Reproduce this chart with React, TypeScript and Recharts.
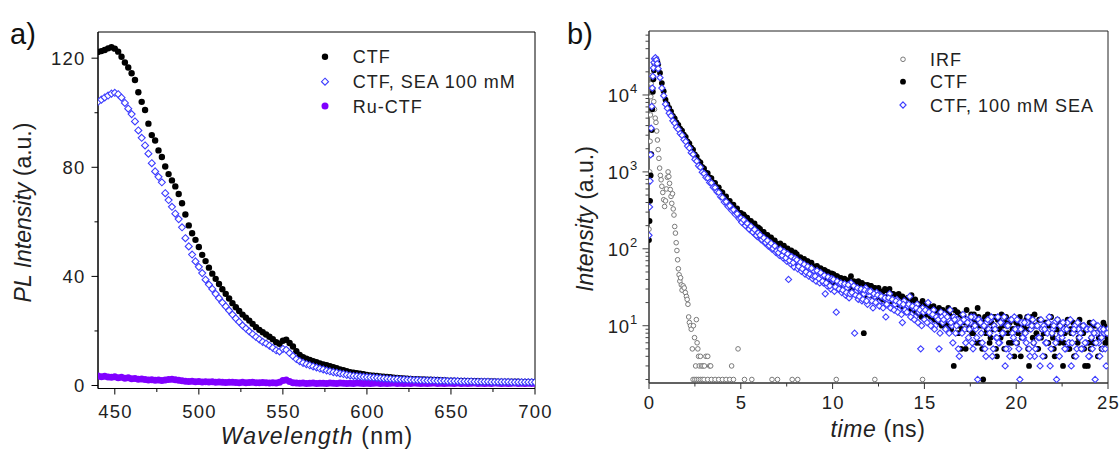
import React from 'react';
import { ScatterChart, Scatter, XAxis, YAxis, ReferenceArea } from 'recharts';

// ---------- panel a) steady-state PL ----------
const wlStart = 440;
const wlStep = 2;

// CTF, one value every 2 nm from 440 to 700 nm
const ctfPL = [
  122.3, 122.6, 123.0, 123.6, 124.0, 123.5, 122.4, 120.5, 118.4, 116.6, // 440
  114.5, 112.0, 107.5, 104.0, 101.0, 96.0, 91.8, 89.8, 86.2, 83.8, // 460
  80.3, 77.5, 75.2, 73.0, 70.2, 66.8, 62.7, 58.7, 55.8, 53.4, // 480
  50.8, 47.9, 45.6, 43.2, 41.0, 39.1, 37.2, 35.3, 33.6, 31.9, // 500
  30.2, 28.7, 27.3, 26.0, 24.9, 23.8, 22.6, 21.4, 20.4, 19.5, // 520
  18.7, 17.9, 17.0, 15.9, 15.3, 16.4, 16.8, 15.6, 14.3, 12.6, // 540
  11.2, 10.4, 9.8, 9.4, 8.9, 8.5, 8.1, 7.7, 7.4, 7.1, // 560
  6.7, 6.3, 5.9, 5.6, 5.2, 4.9, 4.7, 4.5, 4.3, 4.1, // 580
  3.9, 3.7, 3.6, 3.5, 3.3, 3.2, 3.1, 3.0, 2.9, 2.8, // 600
  2.7, 2.6, 2.5, 2.4, 2.3, 2.3, 2.2, 2.2, 2.1, 2.1, // 620
  2.0, 2.0, 1.9, 1.9, 1.8, 1.8, 1.8, 1.7, 1.7, 1.7, // 640
  1.6, 1.6, 1.6, 1.6, 1.5, 1.5, 1.5, 1.5, 1.5, 1.4, // 660
  1.4, 1.4, 1.4, 1.4, 1.4, 1.4, 1.3, 1.3, 1.3, 1.3, // 680
  1.3, // 700
];

// CTF, SEA 100 mM
const seaPL = [
  104.0, 104.8, 105.6, 106.3, 107.0, 107.3, 106.8, 105.5, 103.6, 101.5, // 440
  99.5, 96.8, 93.5, 90.8, 88.0, 85.0, 81.5, 78.5, 76.5, 74.5, // 460
  70.5, 68.0, 65.5, 63.0, 61.0, 58.0, 54.0, 51.0, 48.0, 45.5, // 480
  43.5, 41.2, 38.8, 37.0, 35.4, 33.6, 32.0, 30.4, 29.0, 27.5, // 500
  26.0, 24.6, 23.3, 22.0, 20.9, 19.8, 18.8, 17.8, 16.9, 16.0, // 520
  15.4, 14.6, 13.8, 12.9, 12.5, 13.4, 13.1, 11.9, 10.8, 9.7, // 540
  8.9, 8.3, 7.8, 7.4, 7.0, 6.6, 6.2, 5.9, 5.5, 5.2, // 560
  4.9, 4.7, 4.4, 4.2, 3.9, 3.7, 3.5, 3.4, 3.3, 3.2, // 580
  3.1, 3.0, 2.9, 2.8, 2.7, 2.6, 2.5, 2.4, 2.3, 2.3, // 600
  2.2, 2.2, 2.1, 2.1, 2.0, 2.0, 1.9, 1.9, 1.8, 1.8, // 620
  1.8, 1.7, 1.7, 1.7, 1.6, 1.6, 1.6, 1.6, 1.5, 1.5, // 640
  1.5, 1.5, 1.4, 1.4, 1.4, 1.4, 1.4, 1.3, 1.3, 1.3, // 660
  1.3, 1.3, 1.3, 1.2, 1.2, 1.2, 1.2, 1.2, 1.2, 1.2, // 680
  1.2, // 700
];

// Ru-CTF
const ruPL = [
  3.5, 3.2, 3.4, 3.1, 3.0, 3.2, 2.8, 3.0, 2.7, 2.8, // 440
  2.5, 2.6, 2.3, 2.4, 2.2, 2.0, 2.1, 1.9, 2.0, 1.8, // 460
  2.0, 2.2, 2.3, 2.1, 1.9, 1.7, 1.6, 1.5, 1.6, 1.4, // 480
  1.5, 1.3, 1.4, 1.3, 1.4, 1.2, 1.3, 1.2, 1.1, 1.2, // 500
  1.2, 1.1, 1.0, 1.2, 1.0, 1.1, 1.2, 1.0, 1.0, 1.1, // 520
  1.0, 0.9, 1.0, 0.9, 1.2, 1.8, 2.0, 1.5, 1.0, 0.9, // 540
  0.8, 0.9, 0.7, 0.8, 0.9, 0.7, 0.8, 0.8, 0.7, 0.9, // 560
  0.8, 0.7, 0.9, 0.8, 0.7, 0.8, 0.7, 0.9, 0.8, 0.7, // 580
  0.8, 0.7, 0.8, 0.9, 0.7, 0.8, 0.7, 0.8, 0.9, 0.7, // 600
  0.8, 0.7, 0.8, 0.7, 0.9, 0.8, 0.7, 0.8, 0.7, 0.8, // 620
  0.9, 0.7, 0.8, 0.7, 0.8, 0.8, 0.7, 0.9, 0.7, 0.8, // 640
  0.7, 0.8, 0.9, 0.7, 0.8, 0.7, 0.8, 0.7, 0.9, 0.8, // 660
  0.7, 0.8, 0.7, 0.8, 0.9, 0.7, 0.8, 0.7, 0.8, 0.7, // 680
  0.8, // 700
];

const wlTicks = [450, 475, 500, 525, 550, 575, 600, 625, 650, 675, 700];
const wlMajor = [450, 500, 550, 600, 650, 700];
const plTicks = [0, 20, 40, 60, 80, 100, 120];
const plMajor = [0, 40, 80, 120];

// ---------- panel b) time-resolved PL ----------
const riseTimes = [0, 0.03, 0.06, 0.09, 0.12, 0.15, 0.18, 0.21, 0.24, 0.27, 0.3, 0.35, 0.4, 0.45];
const ctfRise = [130, 230, 420, 900, 1700, 3500, 6500, 11000, 16000, 21000, 25500, 28500, 29500, 27500];
const seaRise = [150, 350, 760, 1670, 3700, 7100, 12300, 17500, 22500, 26500, 29500, 30500, 28500, 25500];

// decay channels, every 0.1 ns from 0.5 ns
const tailStart = 0.5;
const tailStep = 0.1;

const ctfTail = [
  25000, 19300, 14300, 11200, 8700, 7600, 6800, 6100, 5350, 4950, // 0.5
  4400, 4080, 3650, 3450, 3050, 2850, 2500, 2340, 2060, 1940, // 1.5
  1690, 1580, 1390, 1330, 1160, 1110, 980, 965, 850, 830, // 2.5
  730, 720, 635, 630, 555, 540, 470, 480, 415, 420, // 3.5
  365, 375, 325, 335, 290, 292, 255, 265, 230, 236, // 4.5
  205, 215, 185, 196, 170, 180, 152, 166, 140, 150, // 5.5
  125, 140, 117, 128, 104, 116, 97, 108, 90, 99, // 6.5
  96, 79, 92, 75, 70, 83, 66, 74, 61, 72, // 7.5
  58, 69, 54, 62, 50, 59, 47, 56, 45, 53, // 8.5
  44, 52, 41, 48, 38, 46, 36, 44, 42, 35, // 9.5
  41, 33, 39, 30, 37, 44, 31, 36, 29, 38, // 10.5
  27, 36, 8, 25, 34, 28, 33, 24, 31, 26, // 11.5
  31, 23, 27, 22, 29, 24, 30, 21, 26, 23, // 12.5
  20, 26, 18, 24, 21, 17, 23, 19, 25, 18, // 13.5
  22, 16, 19, 15, 21, 17, 14, 19, 16, 13, // 14.5
  18, 13, 15, 17, 12, 16, 11, 14, 17, 12, // 15.5
  13, 3, 12, 15, 10, 5, 13, 11, 16, 9, // 16.5
  12, 8, 14, 10, 17, 6, 11, 2, 13, 9, // 17.5
  11, 7, 13, 10, 5, 12, 9, 14, 8, 11, // 18.5
  10, 6, 12, 9, 4, 11, 8, 13, 7, 10, // 19.5
  9, 13, 3, 11, 7, 14, 8, 5, 12, 9, // 20.5
  8, 11, 6, 10, 13, 7, 4, 9, 11, 8, // 21.5
  10, 6, 9, 12, 5, 8, 11, 4, 9, 7, // 22.5
  8, 10, 5, 9, 3, 11, 7, 6, 10, 8, // 23.5
  7, 9, 5, 10, 6, 8, // 24.5
];

const seaTail = [
  22000, 16800, 12300, 9800, 7600, 6700, 5800, 5350, 4620, 4300, // 0.5
  3800, 3560, 3150, 2990, 2630, 2480, 2170, 2040, 1780, 1690, // 1.5
  1450, 1380, 1200, 1150, 990, 950, 850, 830, 730, 720, // 2.5
  630, 625, 550, 540, 475, 465, 405, 410, 355, 362, // 3.5
  315, 322, 280, 286, 247, 251, 220, 226, 198, 204, // 4.5
  176, 186, 160, 168, 144, 152, 132, 140, 120, 128, // 5.5
  108, 119, 99, 108, 90, 97, 82, 91, 76, 84, // 6.5
  69, 40, 64, 78, 58, 69, 55, 64, 51, 60, // 7.5
  47, 58, 44, 54, 41, 51, 38, 49, 36, 45, // 8.5
  36, 26, 33, 42, 30, 39, 28, 15, 30, 35, // 9.5
  27, 34, 25, 31, 23, 36, 26, 8, 28, 22, // 10.5
  29, 21, 26, 31, 19, 25, 28, 17, 24, 27, // 11.5
  20, 25, 18, 23, 13, 21, 26, 17, 22, 19, // 12.5
  22, 16, 19, 11, 21, 15, 18, 24, 14, 17, // 13.5
  13, 19, 15, 5, 17, 12, 16, 20, 11, 14, // 14.5
  16, 10, 13, 5, 15, 11, 14, 9, 12, 16, // 15.5
  10, 13, 8, 12, 4, 11, 14, 9, 12, 7, // 16.5
  11, 6, 13, 9, 2, 12, 8, 10, 5, 11, // 17.5
  9, 12, 4, 10, 7, 13, 6, 11, 8, 3, // 18.5
  10, 5, 12, 8, 13, 6, 9, 2, 11, 7, // 19.5
  8, 11, 5, 9, 12, 4, 10, 7, 3, 9, // 20.5
  10, 6, 8, 13, 5, 9, 11, 2, 7, 10, // 21.5
  7, 9, 5, 11, 6, 3, 8, 10, 5, 9, // 22.5
  8, 5, 10, 6, 9, 4, 7, 11, 2, 8, // 23.5
  6, 9, 5, 8, 3, 9, // 24.5
];

// in-between channels of the slow part, every 0.1 ns from 5.05 ns
const midStart = 5.05;

const ctfTailMid = [
  262, 281, 241, 255, 219, 231, 199, 214, 182, 190, // 5.05
  181, 155, 166, 143, 152, 131, 141, 121, 129, 113, // 6.05
  107, 118, 98, 110, 92, 101, 85, 95, 79, 90, // 7.05
  85, 70, 78, 65, 74, 60, 69, 57, 66, 53, // 8.05
  51, 60, 48, 56, 45, 53, 43, 50, 41, 48, // 9.05
  47, 38, 44, 36, 42, 34, 41, 32, 39, 33, // 10.05
  31, 38, 29, 36, 28, 35, 26, 34, 33, 27, // 11.05
  33, 25, 31, 24, 29, 23, 28, 22, 30, 21, // 12.05
  28, 21, 26, 20, 25, 19, 24, 18, 23, 17, // 13.05
  18, 23, 16, 21, 15, 20, 14, 19, 13, 17, // 14.05
  19, 14, 18, 13, 17, 12, 16, 11, 15, 10, // 15.05
  12, 15, 10, 14, 9, 13, 16, 11, 8, 14, // 16.05
  9, 13, 5, 12, 10, 14, 8, 11, 6, 13, // 17.05
  10, 5, 12, 8, 14, 6, 11, 9, 13, 4, // 18.05
  12, 7, 10, 5, 13, 8, 11, 6, 9, 12, // 19.05
  6, 10, 4, 11, 8, 12, 5, 9, 13, 6, // 20.05
  10, 5, 12, 7, 9, 4, 11, 6, 13, 8, // 21.05
  5, 9, 12, 6, 10, 3, 8, 11, 5, 9, // 22.05
  9, 4, 10, 6, 12, 5, 8, 3, 9, 6, // 23.05
  5, 10, 6, 8, 4, 9, 5, 11, 6, 7, // 24.05
];

const seaTailMid = [
  221, 238, 200, 214, 181, 196, 165, 178, 150, 161, // 5.05
  151, 132, 139, 121, 128, 110, 118, 101, 109, 94, // 6.05
  89, 99, 82, 92, 76, 86, 70, 79, 66, 75, // 7.05
  72, 59, 67, 55, 63, 50, 59, 47, 56, 44, // 8.05
  44, 52, 41, 49, 38, 45, 36, 43, 33, 41, // 9.05
  40, 32, 38, 30, 36, 29, 35, 27, 34, 26, // 10.05
  27, 33, 25, 31, 24, 30, 22, 29, 21, 28, // 11.05
  28, 21, 26, 20, 25, 18, 24, 17, 23, 19, // 12.05
  23, 17, 22, 16, 21, 15, 20, 14, 19, 16, // 13.05
  15, 19, 13, 18, 12, 17, 11, 16, 10, 15, // 14.05
  16, 11, 15, 10, 14, 9, 13, 12, 8, 13, // 15.05
  12, 9, 13, 8, 11, 6, 12, 10, 5, 11, // 16.05
  8, 12, 6, 11, 9, 13, 5, 10, 7, 12, // 17.05
  11, 6, 10, 4, 12, 8, 13, 5, 9, 7, // 18.05
  6, 11, 8, 13, 5, 10, 4, 12, 7, 9, // 19.05
  12, 5, 9, 7, 11, 6, 13, 4, 10, 6, // 20.05
  5, 10, 7, 12, 4, 9, 6, 11, 3, 8, // 21.05
  10, 6, 12, 4, 8, 11, 5, 9, 6, 12, // 22.05
  6, 9, 4, 11, 7, 5, 10, 6, 9, 4, // 23.05
  9, 5, 8, 6, 10, 4, 7, 9, 5, 8, // 24.05
];

const irfTimes = [
  0, 0.02, 0.04, 0.06, 0.08, 0.1, 0.12, 0.15, 0.18, 0.22,
  0.26, 0.3, 0.34, 0.38, 0.42, 0.46, 0.5, 0.54, 0.58, 0.62,
  0.66, 0.7, 0.75, 0.8, 0.85, 0.9, 0.95, 1.0, 1.04, 1.08,
  1.12, 1.16, 1.2, 1.24, 1.28, 1.32, 1.36, 1.4, 1.44, 1.48,
  1.52, 1.56, 1.6, 1.64, 1.68, 1.72, 1.76, 1.8, 1.86, 1.92,
  1.98, 2.04, 2.08, 2.12, 2.16, 2.2, 2.26, 2.3, 2.36, 2.42,
  2.48, 2.54, 2.58, 2.62, 2.66, 2.7, 2.74, 2.8, 2.86, 2.94,
  3.02, 3.1, 3.2, 3.3, 3.36, 4.5, 4.85, 2.4, 2.5, 2.6,
  2.7, 2.8, 2.9, 3.0, 3.2, 3.4, 3.6, 3.8, 4.0, 4.2,
  4.4, 4.6, 5.2, 5.6, 6.7, 7.0, 7.8, 8.1, 10.2, 12.3,
  14.9,
];
const irfCounts = [
  180, 420, 1000, 2500, 5500, 9500, 14000, 18000, 16000, 12000,
  8200, 6500, 5000, 4400, 3400, 2600, 1950, 1500, 1120, 900,
  790, 650, 540, 435, 355, 420, 600, 850, 1000, 870,
  710, 590, 480, 390, 520, 330, 275, 195, 160, 120,
  95, 72, 55, 46, 38, 42, 34, 29, 33, 31,
  27, 24, 22, 19, 13, 11, 10, 9, 5, 10,
  7, 3, 12, 6, 5, 4, 3, 4, 3, 3,
  3, 4, 4, 3, 3, 3, 5, 2, 2, 2,
  2, 2, 2, 2, 2, 2, 2, 2, 2, 2,
  2, 2, 2, 2, 2, 2, 2, 2, 2, 2,
  2,
];

const timeTicks = [0, 2.5, 5, 7.5, 10, 12.5, 15, 17.5, 20, 22.5, 25];
const timeMajor = [0, 5, 10, 15, 20, 25];
const logTicks = [
  2, 3, 4, 5, 6, 7, 8, 9, 10, 20, 30, 40, 50, 60, 70, 80, 90,
  100, 200, 300, 400, 500, 600, 700, 800, 900,
  1000, 2000, 3000, 4000, 5000, 6000, 7000, 8000, 9000,
  10000, 20000, 30000, 40000, 50000, 60000,
];
const logMajor = [10, 100, 1000, 10000];

// ---------- helpers ----------
const seq = (start: number, step: number, ys: number[]) =>
  ys.map((y, i) => ({ x: Math.round((start + i * step) * 1000) / 1000, y }));
const zip = (xs: number[], ys: number[]) => xs.map((x, i) => ({ x, y: ys[i] }));

const ctfPoints = seq(wlStart, wlStep, ctfPL);
const seaPoints = seq(wlStart, wlStep, seaPL);
const ruPoints = seq(wlStart, wlStep, ruPL);

const irfPoints = zip(irfTimes, irfCounts);
const ctfDecay = [
  ...zip(riseTimes, ctfRise),
  ...seq(tailStart, tailStep, ctfTail),
  ...seq(midStart, tailStep, ctfTailMid),
];
const seaDecay = [
  ...zip(riseTimes, seaRise),
  ...seq(tailStart, tailStep, seaTail),
  ...seq(midStart, tailStep, seaTailMid),
];

const FONT = '"Liberation Sans", Arial, Helvetica, sans-serif';
const TEXT = '#222';
const BLUE = '#3d3dff';
const PURPLE = '#8000ff';
const GRAY = '#7a7a7a';

const tickText = { fontFamily: FONT, fontSize: 18.5, letterSpacing: 1.2, fill: TEXT };

const dot = (r: number, color: string) => (p: any) =>
  p.cx == null ? <g /> : <circle cx={p.cx} cy={p.cy} r={r} fill={color} />;
const ring = (r: number, color: string) => (p: any) =>
  p.cx == null ? <g /> : <circle cx={p.cx} cy={p.cy} r={r} fill="#fff" stroke={color} strokeWidth={1} />;
const diamond = (h: number, color: string) => (p: any) =>
  p.cx == null ? (
    <g />
  ) : (
    <path
      d={`M${p.cx},${p.cy - h}L${p.cx + h},${p.cy}L${p.cx},${p.cy + h}L${p.cx - h},${p.cy}Z`}
      fill="#fff"
      stroke={color}
      strokeWidth={1.1}
    />
  );

// ticks are drawn here, x / y is where the axis line sits (tickSize and tickMargin are 0)
function BottomTick(props: any) {
  const { x, y, payload, majors, color, labelDy } = props;
  const major = majors.includes(payload.value);
  return (
    <g>
      <line x1={x} x2={x} y1={y} y2={y + (major ? 6 : 3.5)} stroke={color} strokeWidth={1} />
      {major && (
        <text x={x + 0.6} y={y + labelDy} textAnchor="middle" style={tickText}>
          {payload.value}
        </text>
      )}
    </g>
  );
}

function LeftTick(props: any) {
  const { x, y, payload, majors, color, log } = props;
  const v = payload.value;
  const major = majors.includes(v);
  return (
    <g>
      <line x1={x} x2={x - (major ? 6.5 : 3.5)} y1={y} y2={y} stroke={color} strokeWidth={1} />
      {major && !log && (
        <text x={x - 12.5} y={y + 6.5} textAnchor="end" style={tickText}>
          {v}
        </text>
      )}
      {major && log && (
        <text x={x - 11} y={y + 7} textAnchor="end" style={{ ...tickText, letterSpacing: 0.8 }}>
          10
          <tspan dy={-9} fontSize={13}>
            {Math.round(Math.log10(v))}
          </tspan>
        </text>
      )}
    </g>
  );
}

function PanelA() {
  return (
    <ScatterChart width={560} height={450} margin={{ top: 32, right: 25, bottom: 0, left: 0 }}>
      <XAxis
        type="number"
        dataKey="x"
        domain={[440, 700]}
        ticks={wlTicks}
        interval={0}
        allowDataOverflow
        height={61.5}
        tickSize={0}
        tickMargin={0}
        tickLine={false}
        stroke="#000"
        tick={(p: any) => <BottomTick {...p} majors={wlMajor} color="#000" labelDy={29} />}
      />
      <YAxis
        type="number"
        dataKey="y"
        domain={[-1.1, 129.6]}
        ticks={plTicks}
        interval={0}
        allowDataOverflow
        width={98}
        tickSize={0}
        tickMargin={0}
        tickLine={false}
        stroke="#000"
        tick={(p: any) => <LeftTick {...p} majors={plMajor} color="#000" />}
      />
      <ReferenceArea x1={440} x2={700} y1={-1.1} y2={129.6} fill="none" stroke="#000" strokeWidth={1} />
      <Scatter data={ruPoints} shape={dot(3.5, PURPLE)} isAnimationActive={false} />
      <Scatter data={ctfPoints} shape={dot(3.2, '#000')} isAnimationActive={false} />
      <Scatter data={seaPoints} shape={diamond(3.5, BLUE)} isAnimationActive={false} />
    </ScatterChart>
  );
}

function PanelB() {
  return (
    <ScatterChart width={560} height={450} margin={{ top: 31, right: 12, bottom: 0, left: 0 }}>
      <XAxis
        type="number"
        dataKey="x"
        domain={[0, 25]}
        ticks={timeTicks}
        interval={0}
        allowDataOverflow
        height={67}
        tickSize={0}
        tickMargin={0}
        tickLine={false}
        stroke="#333"
        tick={(p: any) => <BottomTick {...p} majors={timeMajor} color="#333" labelDy={25.5} />}
      />
      <YAxis
        type="number"
        dataKey="y"
        scale="log"
        domain={[1.8, 67900]}
        ticks={logTicks}
        interval={0}
        allowDataOverflow
        width={89}
        tickSize={0}
        tickMargin={0}
        tickLine={false}
        stroke="#444"
        tick={(p: any) => <LeftTick {...p} majors={logMajor} color="#444" log />}
      />
      <ReferenceArea x1={0} x2={25} y1={1.8} y2={67900} fill="none" stroke="#222" strokeWidth={1} />
      <Scatter data={irfPoints} shape={ring(2.3, GRAY)} isAnimationActive={false} />
      <Scatter data={ctfDecay} shape={dot(2.9, '#000')} isAnimationActive={false} />
      <Scatter data={seaDecay} shape={diamond(3.1, BLUE)} isAnimationActive={false} />
    </ScatterChart>
  );
}

const legendText = { fontFamily: FONT, fontSize: 18, letterSpacing: 1.0, fill: TEXT };
const titleText = { fontFamily: FONT, fontSize: 23, fill: TEXT };

function Overlay() {
  const d = (cx: number, cy: number, h: number) =>
    `M${cx},${cy - h}L${cx + h},${cy}L${cx},${cy + h}L${cx - h},${cy}Z`;
  return (
    <svg
      width={1120}
      height={450}
      style={{ position: 'absolute', left: 0, top: 0, pointerEvents: 'none' }}
    >
      <text x={10} y={43.5} style={{ fontFamily: FONT, fontSize: 29, fill: '#111' }}>a)</text>
      <text x={567} y={43.5} style={{ fontFamily: FONT, fontSize: 29, fill: '#111' }}>b)</text>

      <text x={317} y={443.5} textAnchor="middle" style={{ ...titleText, letterSpacing: 1.2 }}>
        <tspan fontStyle="italic">Wavelength</tspan> (nm)
      </text>
      <text transform="translate(31,212.5) rotate(-90)" textAnchor="middle" style={titleText}>
        <tspan fontStyle="italic">PL Intensity</tspan> (a.u.)
      </text>
      <text x={878} y={437} textAnchor="middle" style={{ ...titleText, letterSpacing: 0.6 }}>
        <tspan fontStyle="italic">time</tspan> (ns)
      </text>
      <text transform="translate(593,219) rotate(-90)" textAnchor="middle" style={titleText}>
        <tspan fontStyle="italic">Intensity</tspan> (a.u.)
      </text>

      {/* legend a */}
      <circle cx={325} cy={56.7} r={3.2} fill="#000" />
      <text x={352.7} y={63.2} style={legendText}>CTF</text>
      <path d={d(325, 81.7, 3.5)} fill="#fff" stroke={BLUE} strokeWidth={1.1} />
      <text x={352.7} y={88.2} style={legendText}>CTF, SEA 100 mM</text>
      <circle cx={325} cy={106} r={3.5} fill={PURPLE} />
      <text x={352.7} y={112.5} style={legendText}>Ru-CTF</text>

      {/* legend b */}
      <circle cx={903} cy={59.3} r={2.3} fill="#fff" stroke={GRAY} strokeWidth={1} />
      <text x={930} y={65.8} style={legendText}>IRF</text>
      <circle cx={903} cy={81.7} r={2.9} fill="#000" />
      <text x={930} y={88.2} style={legendText}>CTF</text>
      <path d={d(903, 105, 3.1)} fill="#fff" stroke={BLUE} strokeWidth={1.1} />
      <text x={930} y={111.5} style={legendText}>CTF, 100 mM SEA</text>
    </svg>
  );
}

export default function App() {
  return (
    <div style={{ position: 'absolute', left: 0, top: 0, width: 1120, height: 450, background: '#fff' }}>
      <div style={{ position: 'absolute', left: 0, top: 0 }}>
        <PanelA />
      </div>
      <div style={{ position: 'absolute', left: 560, top: 0 }}>
        <PanelB />
      </div>
      <Overlay />
    </div>
  );
}
